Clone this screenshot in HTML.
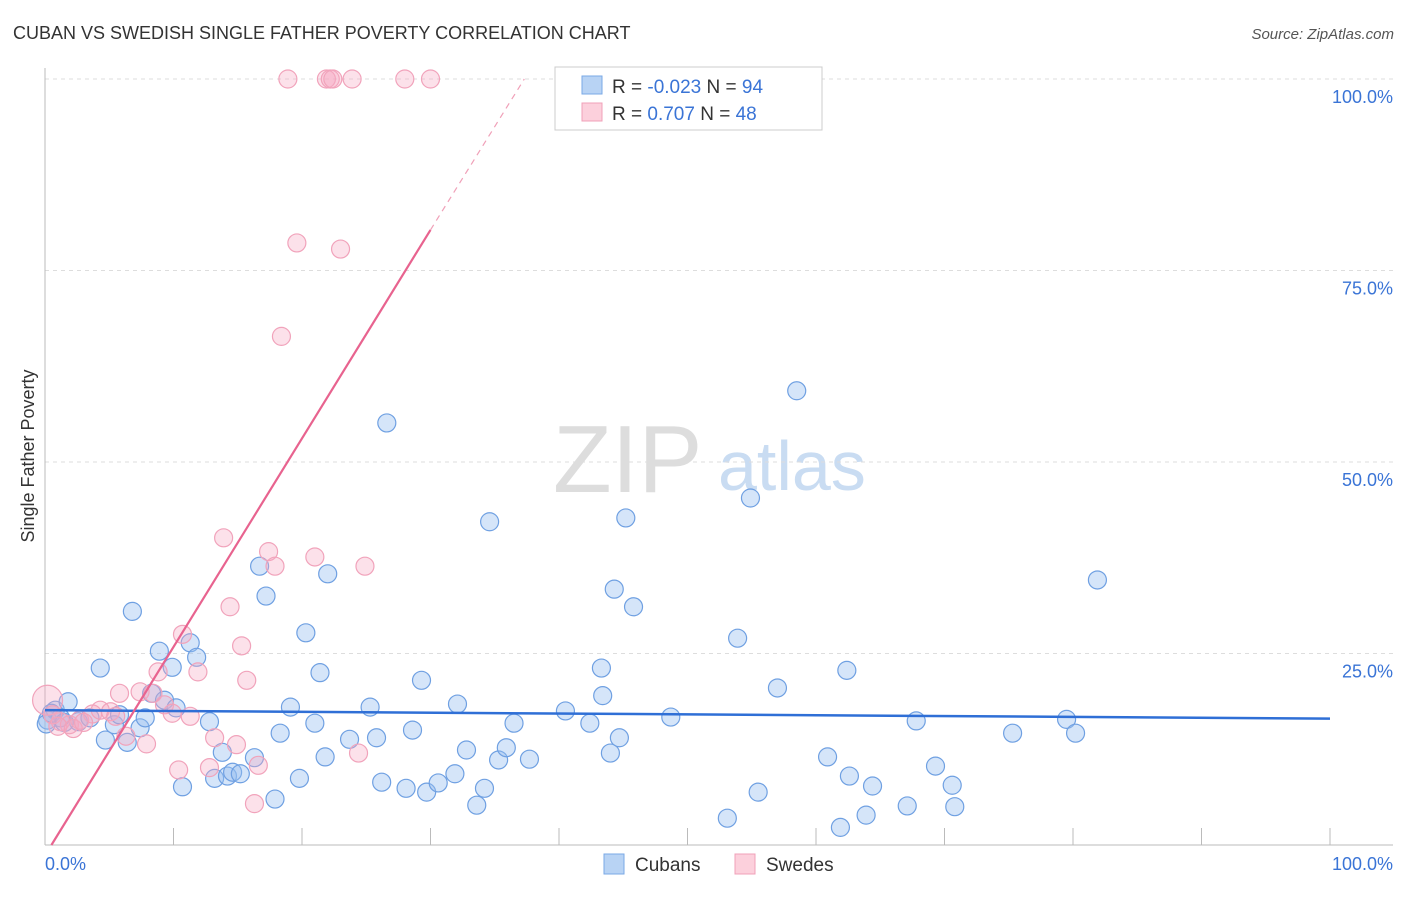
<!DOCTYPE html>
<html><head><meta charset="utf-8"><style>
body{margin:0;background:#fff;font-family:"Liberation Sans",sans-serif;}
svg text{font-family:"Liberation Sans",sans-serif;}
</style></head><body>
<svg id="chart" width="1406" height="892" xmlns="http://www.w3.org/2000/svg">
<text x="13" y="39" font-size="18" fill="#333">CUBAN VS SWEDISH SINGLE FATHER POVERTY CORRELATION CHART</text>
<text x="1394" y="39" font-size="15" fill="#555" text-anchor="end" font-style="italic">Source: ZipAtlas.com</text>
<g>
<text x="553" y="492" font-size="96" fill="#ddd" font-family="Liberation Serif">ZIP</text>
<text x="718" y="490" font-size="70" fill="#c9dcf2">atlas</text>
</g>
<g id="grid"></g>
<g id="axes"></g>
<g id="marks"></g>
<text transform="translate(34,456) rotate(-90)" font-size="18" fill="#333" text-anchor="middle">Single Father Poverty</text>
<g>
<rect x="555" y="67" width="267" height="63" fill="#fff" stroke="#ccc"/>
<rect x="582" y="76" width="20" height="18" fill="#b8d3f4" stroke="#7aa8e6"/>
<rect x="582" y="103" width="20" height="18" fill="#fcd0dc" stroke="#f0a0b8"/>
<text x="612" y="93" font-size="19" fill="#333">R = <tspan fill="#3a74d6">-0.023</tspan>   N = <tspan fill="#3a74d6">94</tspan></text>
<text x="612" y="120" font-size="19" fill="#333">R =   <tspan fill="#3a74d6">0.707</tspan>   N = <tspan fill="#3a74d6">48</tspan></text>
</g>
<g>
<rect x="604" y="854" width="20" height="20" fill="#b8d3f4" stroke="#7aa8e6"/>
<text x="635" y="871" font-size="19" fill="#333">Cubans</text>
<rect x="735" y="854" width="20" height="20" fill="#fcd0dc" stroke="#f0a0b8"/>
<text x="766" y="871" font-size="19" fill="#333">Swedes</text>
</g>
</svg>
<script>
const yTicks=[100,75,50,25];
const yTickLabels=["100.0%","75.0%","50.0%","25.0%"];
const xTicks=[10,20,30,40,50,60,70,80,90,100];
const cubanX=[0.2,0.8,1.2,1.8,2.6,3.5,4.3,4.7,5.4,5.8,6.4,6.8,7.4,7.8,8.3,8.9,9.3,9.9,10.2,10.7,11.3,11.8,12.8,13.2,13.8,14.2,14.6,15.2,16.3,16.7,17.2,17.9,18.3,19.1,19.8,20.3,21.0,21.4,21.8,22.0,23.7,25.3,25.8,26.2,26.6,28.1,28.6,29.3,29.7,30.6,31.9,32.1,32.8,33.6,34.2,34.6,35.3,35.9,36.5,37.7,40.5,42.4,43.3,43.4,44.0,44.3,44.7,45.2,45.8,48.7,53.1,53.9,54.9,55.5,57.0,58.5,60.9,61.9,62.4,62.6,63.9,64.4,67.1,67.8,69.3,70.6,70.8,75.3,79.5,80.2,81.9,0.1,0.5,1.5];
const cubanY=[16.3,17.6,16.6,18.7,16.1,16.6,23.1,13.7,15.7,17.0,13.4,30.5,15.3,16.6,19.8,25.3,18.9,23.2,17.9,7.6,26.4,24.5,16.1,8.7,12.1,9.0,9.5,9.3,11.4,36.4,32.5,6.0,14.6,18.0,8.7,27.7,15.9,22.5,11.5,35.4,13.8,18.0,14.0,8.2,55.1,7.4,15.0,21.5,6.9,8.1,9.3,18.4,12.4,5.2,7.4,42.2,11.1,12.7,15.9,11.2,17.5,15.9,23.1,19.5,12.0,33.4,14.0,42.7,31.1,16.7,3.5,27.0,45.3,6.9,20.5,59.3,11.5,2.3,22.8,9.0,3.9,7.7,5.1,16.2,10.3,7.8,5.0,14.6,16.4,14.6,34.6,15.8,17.2,16.0];
const swedeX=[0.2,1.2,1.9,2.7,3.7,4.3,5.1,5.8,6.3,7.4,7.9,8.4,8.8,9.3,9.9,10.7,10.4,11.3,11.9,12.8,13.2,13.9,14.4,14.9,15.3,15.7,16.3,16.6,17.4,17.9,18.4,18.9,19.6,21.0,21.9,22.2,22.4,23.0,23.9,24.4,24.9,28.0,30.0,0.6,1.0,2.2,3.0,5.5];
const swedeY=[18.9,16.1,15.7,16.3,17.1,17.6,17.4,19.8,14.2,20.0,13.2,19.8,22.6,18.3,17.2,27.5,9.8,16.8,22.6,10.1,14.0,40.1,31.1,13.1,26.0,21.5,5.4,10.4,38.3,36.4,66.4,100,78.6,37.6,100,100,100,77.8,100,12.0,36.4,100,100,17.0,15.5,15.2,16.0,16.8];
const cubanTrend=[17.6,16.5]; // y at x=0 and x=100
const swedeTrendX=[0.5,30,37.3];
const swedeTrendY=[0,80.3,100];
const NS="http://www.w3.org/2000/svg";
const X0=45,X1=1330,Y0=845,Y1=79;
const sx=v=>X0+(X1-X0)*v/100, sy=v=>Y0-(Y0-Y1)*v/100;
function mk(tag,attrs,parent){const e=document.createElementNS(NS,tag);for(const k in attrs)e.setAttribute(k,attrs[k]);parent.appendChild(e);return e;}
const grid=document.getElementById('grid'),axes=document.getElementById('axes'),marks=document.getElementById('marks');
yTicks.forEach((t,i)=>{
 const l=mk('line',{x1:X0,x2:1393,y1:sy(t),y2:sy(t),stroke:'#ddd','stroke-dasharray':'4,4'},grid);
 
 
 const tx=mk('text',{x:1393,y:sy(t)+24,'font-size':18,fill:'#3a74d6','text-anchor':'end'},axes);
 tx.textContent=yTickLabels[i];
 
 
});
const ya=mk('line',{x1:X0,x2:X0,y1:68,y2:Y0,stroke:'#bbb'},axes);


const xa=mk('line',{x1:X0,x2:1393,y1:Y0,y2:Y0,stroke:'#bbb'},axes);


xTicks.forEach(t=>{
 const l=mk('line',{x1:sx(t),x2:sx(t),y1:828,y2:Y0,stroke:'#bbb'},axes);
 
 
});
const xl0=mk('text',{x:45,y:870,'font-size':18,fill:'#3a74d6'},axes);xl0.textContent='0.0%';


const xl1=mk('text',{x:1393,y:870,'font-size':18,fill:'#3a74d6','text-anchor':'end'},axes);xl1.textContent='100.0%';


cubanX.forEach((x,i)=>{
 const c=mk('circle',{cx:sx(x),cy:sy(cubanY[i]),r:9,fill:'rgba(150,190,240,0.4)',stroke:'#6fa0e2','stroke-width':1.2},marks);
 
 
});
swedeX.forEach((x,i)=>{
 const c=mk('circle',{cx:sx(x),cy:sy(swedeY[i]),r:i===0?15:9,fill:'rgba(245,170,195,0.35)',stroke:'#f1a3bb','stroke-width':1.2},marks);
 
 
});
const bt=mk('line',{x1:sx(0),y1:sy(cubanTrend[0]),x2:sx(100),y2:sy(cubanTrend[1]),stroke:'#2f6fd6','stroke-width':2.5},marks);


const pt=mk('line',{x1:sx(swedeTrendX[0]),y1:sy(swedeTrendY[0]),x2:sx(swedeTrendX[1]),y2:sy(swedeTrendY[1]),stroke:'#e8638f','stroke-width':2.2},marks);


const pd=mk('line',{x1:sx(swedeTrendX[1]),y1:sy(swedeTrendY[1]),x2:sx(swedeTrendX[2]),y2:sy(swedeTrendY[2]),stroke:'#f0a0b8','stroke-width':1.2,'stroke-dasharray':'6,5'},marks);


</script>
</body></html>
